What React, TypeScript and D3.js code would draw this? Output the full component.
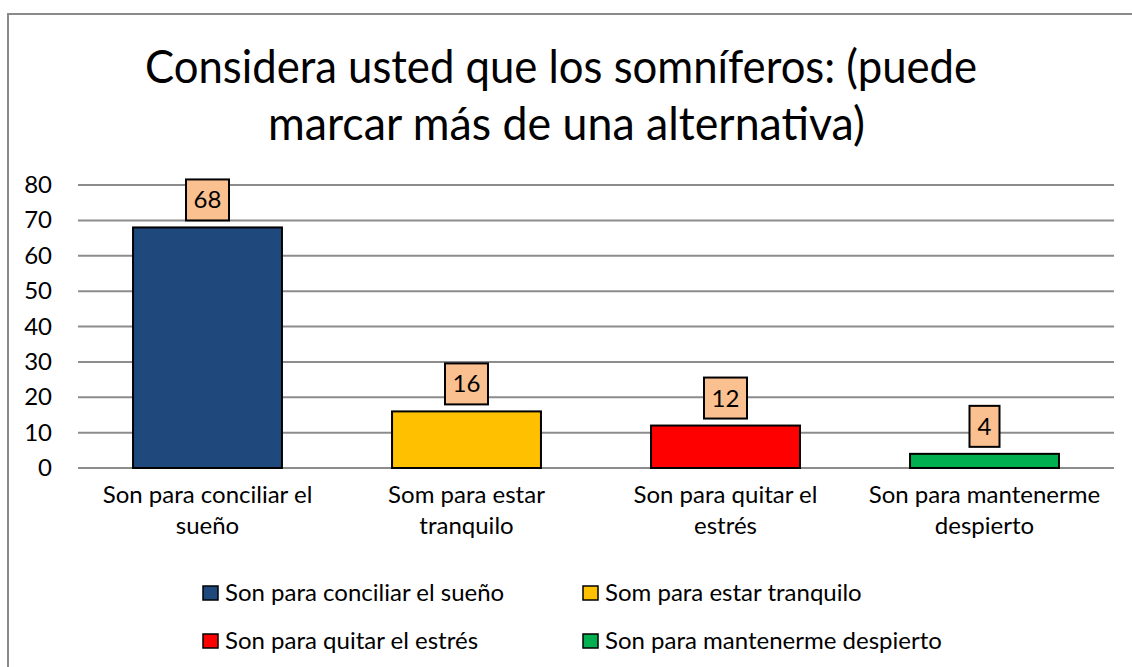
import React from "react";
import * as d3 from "d3";

const titleLines = ["Considera usted que los somníferos: (puede", "marcar más de una alternativa)"];
const categories = [
  "Son para conciliar el sueño",
  "Som para estar tranquilo",
  "Son para quitar el estrés",
  "Son para mantenerme despierto",
];
const categoryLines = [
  ["Son para conciliar el", "sueño"],
  ["Som para estar", "tranquilo"],
  ["Son para quitar el", "estrés"],
  ["Son para mantenerme", "despierto"],
];
const values = [68, 16, 12, 4];
const colors = ["#1F497D", "#FFC000", "#FF0000", "#00B050"];
const yTicks = [0, 10, 20, 30, 40, 50, 60, 70, 80];

const W = 1132;
const H = 667;
const FONT = "Lato, 'Open Sans', sans-serif";

export default function App() {
  const x = d3
    .scaleBand<string>()
    .domain(categories)
    .range([78, 1114])
    .paddingInner(0.425)
    .paddingOuter(0.2125);
  const y = d3.scaleLinear().domain([0, 80]).range([468, 185]);

  const legendPos = [
    { x: 203, y: 586 },
    { x: 583, y: 586 },
    { x: 203, y: 634 },
    { x: 583, y: 634 },
  ];

  return (
    <svg
      width={W}
      height={H}
      style={{ position: "absolute", left: 0, top: 0, background: "#fff" }}
      fontFamily={FONT}
    >
      <rect x={0} y={0} width={W} height={H} fill="#fff" />
      <rect x={8} y={14} width={1300} height={900} fill="#fff" stroke="#8a8a8a" strokeWidth={2} />

      {/* title */}
      <text x={561} y={83} textAnchor="middle" fontSize={46} fill="#000" textLength={832} lengthAdjust="spacingAndGlyphs">
        {titleLines[0]}
      </text>
      <text x={566.5} y={140} textAnchor="middle" fontSize={46} fill="#000" textLength={597} lengthAdjust="spacingAndGlyphs">
        {titleLines[1]}
      </text>

      {/* grid + y ticks */}
      {yTicks.map((t) => (
        <g key={t}>
          <line x1={78} x2={1114} y1={y(t)} y2={y(t)} stroke="#8c8c8c" strokeWidth={2} />
          <text x={52} y={y(t) + 8} textAnchor="end" fontSize={24} fill="#000">
            {t}
          </text>
        </g>
      ))}

      {/* bars */}
      {categories.map((c, i) => (
        <rect
          key={c}
          x={x(c)}
          y={y(values[i])}
          width={x.bandwidth()}
          height={y(0) - y(values[i])}
          fill={colors[i]}
          stroke="#000"
          strokeWidth={2}
        />
      ))}

      {/* data labels */}
      {categories.map((c, i) => {
        const cx = (x(c) as number) + x.bandwidth() / 2;
        const label = String(values[i]);
        const bw = label.length > 1 ? 43 : 30;
        const bh = 41;
        const by = y(values[i]) - 7 - bh;
        return (
          <g key={"l" + c}>
            <rect x={cx - bw / 2} y={by} width={bw} height={bh} fill="#FAC090" stroke="#000" strokeWidth={2} />
            <text x={cx} y={by + bh / 2 + 8.5} textAnchor="middle" fontSize={24} fill="#000">
              {label}
            </text>
          </g>
        );
      })}

      {/* category labels */}
      {categories.map((c, i) => {
        const cx = (x(c) as number) + x.bandwidth() / 2;
        return (
          <text key={"c" + c} x={cx} textAnchor="middle" fontSize={24} fill="#000">
            {categoryLines[i].map((ln, j) => (
              <tspan key={j} x={cx} y={503 + j * 31}>
                {ln}
              </tspan>
            ))}
          </text>
        );
      })}

      {/* legend */}
      {categories.map((c, i) => (
        <g key={"lg" + c}>
          <rect x={legendPos[i].x} y={legendPos[i].y} width={15} height={14} fill={colors[i]} stroke="#000" strokeWidth={1.5} />
          <text x={legendPos[i].x + 22} y={legendPos[i].y + 15} fontSize={24} fill="#000">
            {c}
          </text>
        </g>
      ))}
    </svg>
  );
}
